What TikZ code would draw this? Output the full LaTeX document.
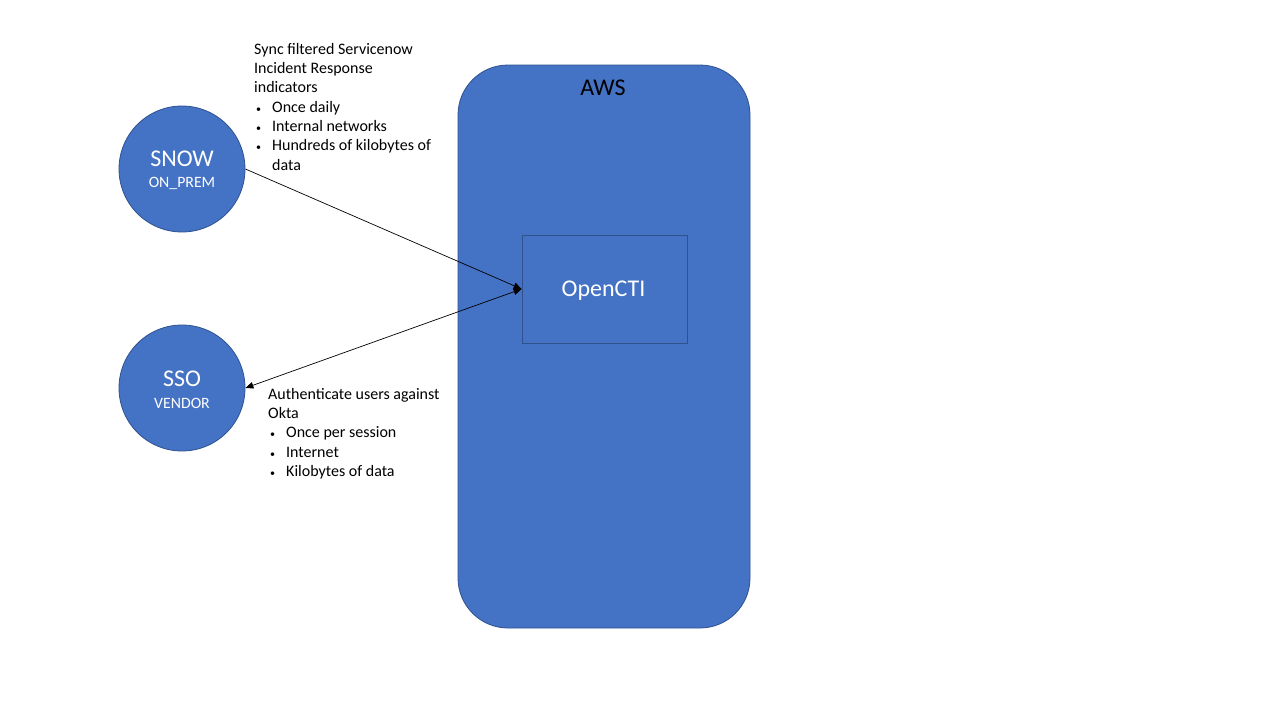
\documentclass[tikz,border=0pt]{standalone}
\usepackage{fontspec}
\setmainfont{Carlito}
\usetikzlibrary{arrows.meta,calc}
\definecolor{fillblue}{HTML}{4472C4}
\definecolor{edgeblue}{HTML}{2F528F}
\newcommand{\blt}{\makebox[18pt][l]{\hspace{2pt}{\fontsize{10}{10}\selectfont •}}}
\begin{document}
\begin{tikzpicture}[x=1pt,y=-1pt,
  circ/.style={circle,fill=fillblue,draw=edgeblue,line width=0.8pt,minimum size=126pt,inner sep=0pt},
  bigw/.style={text=white,font=\fontsize{24}{28}\selectfont,inner sep=0pt},
  smallw/.style={text=white,font=\fontsize{15.8}{18}\selectfont,inner sep=0pt},
  note/.style={align=left,anchor=north west,inner sep=0pt,font=\fontsize{16}{19.3}\selectfont},
  conn/.style={black,line width=0.7pt,-{Triangle[length=8pt,width=6.5pt]}},
  conn2/.style={black,line width=0.7pt,{Triangle[length=8pt,width=6.5pt]}-{Triangle[length=8pt,width=6.5pt]}}]
\useasboundingbox (0,0) rectangle (1280,720);
\fill[white] (0,0) rectangle (1280,720);
% AWS container
\draw[fill=fillblue,draw=edgeblue,line width=0.8pt,rounded corners=50pt] (458,65) rectangle (750,628);
\node[inner sep=0pt,font=\fontsize{24}{28}\selectfont] (aws) at (603,88) {AWS};
% OpenCTI
\node[draw=edgeblue,fill=fillblue,line width=0.8pt,minimum width=165pt,minimum height=108pt,inner sep=0pt] (octi) at (604.5,289) {};
\node[bigw] (octit) at (603.5,291) {OpenCTI};
% Circles
\node[circ] (snow) at (182,169) {};
\node[bigw] (snowt) at (182,159) {SNOW};
\node[smallw] (snows) at (182,183) {ON\_PREM};
\node[circ] (sso) at (182,388) {};
\node[bigw] (ssot) at (182,379) {SSO};
\node[smallw] (ssos) at (182,403) {VENDOR};
% Connectors
\draw[conn] (snow.east) -- (octi.west);
\draw[conn2] (sso.east) -- (octi.west);
% Notes
\node[note] (n1) at (254,43) {Sync filtered Servicenow\\Incident Response\\indicators\\
\blt Once daily\\
\blt Internal networks\\
\blt Hundreds of kilobytes of\\
\hspace*{18pt}data};
\node[note] (n2) at (268,388) {Authenticate users against\\Okta\\
\blt Once per session\\
\blt Internet\\
\blt Kilobytes of data};
\end{tikzpicture}
\end{document}
